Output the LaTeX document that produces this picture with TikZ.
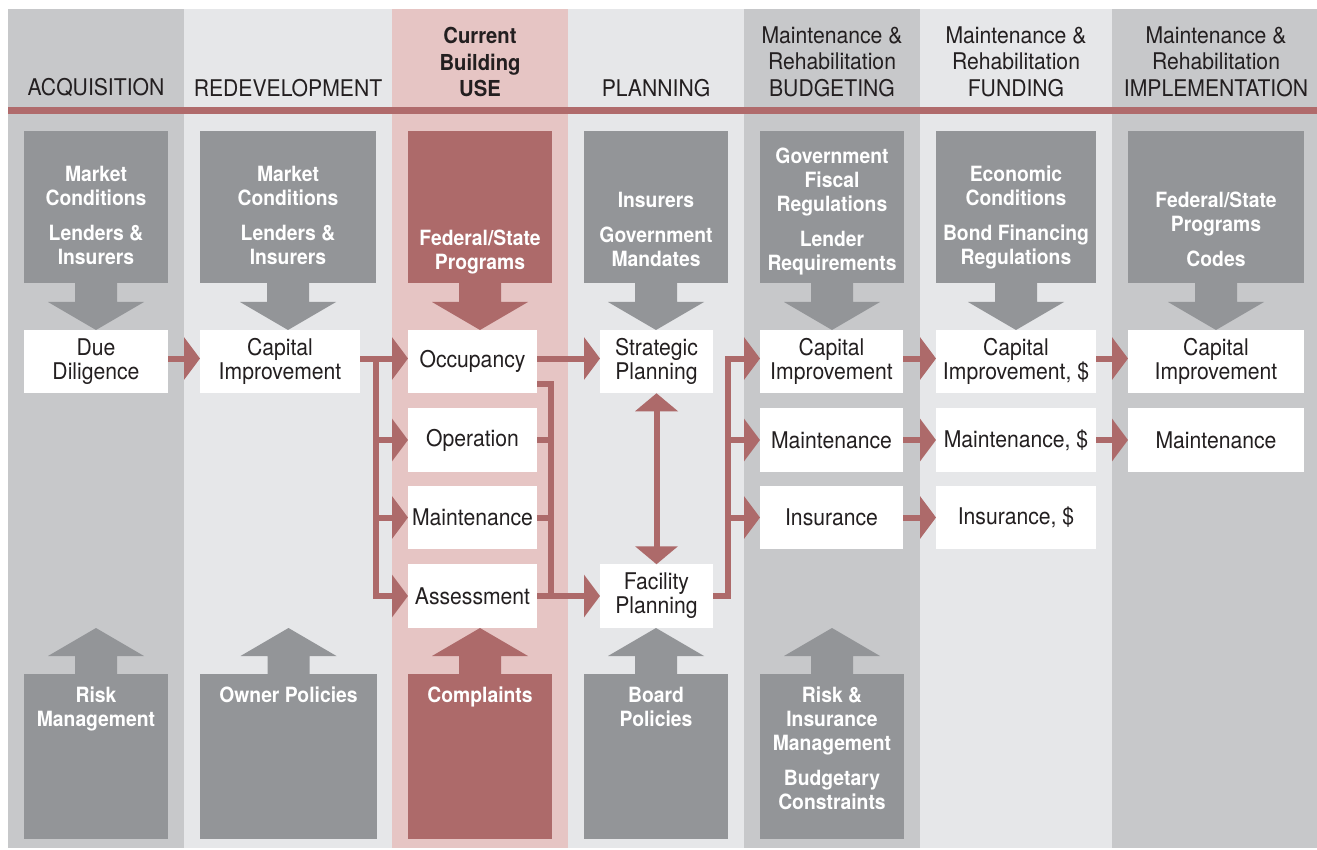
\documentclass[tikz,border=0pt]{standalone}
\usepackage{fontspec}
\setmainfont{TeX Gyre Heros}[FakeStretch=0.92]
\usetikzlibrary{arrows.meta}
\definecolor{coldark}{RGB}{199,200,202}
\definecolor{collight}{RGB}{230,231,233}
\definecolor{colpink}{RGB}{230,197,196}
\definecolor{boxgray}{RGB}{147,149,152}
\definecolor{boxred}{RGB}{173,106,106}
\definecolor{flow}{RGB}{173,106,106}
\definecolor{band}{RGB}{176,107,108}
\definecolor{ink}{RGB}{35,31,32}
\begin{document}
\begin{tikzpicture}[x=1pt,y=-1pt,
	stage/.style={fill=white, text=ink, inner sep=0pt, outer sep=0pt, align=center, minimum height=63.5pt, font=\fontsize{23}{24}\selectfont},
	factor/.style={fill=boxgray, inner sep=0pt, outer sep=0pt},
	ftext/.style={text=white, align=center, anchor=north, inner sep=0pt, font=\bfseries\fontsize{21}{24}\selectfont},
	head/.style={text=ink, align=center, anchor=south, inner sep=0pt, font=\fontsize{23}{26.5}\selectfont},
	wire/.style={draw=flow, line width=6pt},
	link/.style={wire, -{Triangle[width=42pt,length=16pt]}}]
	\useasboundingbox (0,0) rectangle (1317,850);
	\fill[white] (0,0) rectangle (1317,850);
	\fill[coldark] (8,9) rectangle (184,848);
	\fill[collight] (184,9) rectangle (392,848);
	\fill[colpink] (392,9) rectangle (568,848);
	\fill[collight] (568,9) rectangle (744,848);
	\fill[coldark] (744,9) rectangle (920,848);
	\fill[collight] (920,9) rectangle (1112,848);
	\fill[coldark] (1112,9) rectangle (1317,848);
	\fill[band] (8,107) rectangle (1317,114);

	\node[head] (hacq) at (96,97) {ACQUISITION};
	\node[head] (hred) at (288,97) {REDEVELOPMENT};
	\node[head, font=\bfseries\fontsize{22}{26.5}\selectfont] (huse) at (480,97) {Current\\Building\\USE};
	\node[head] (hplan) at (656,97) {PLANNING};
	\node[head] (hbud) at (832,97) {Maintenance \&\\Rehabilitation\\BUDGETING};
	\node[head] (hfund) at (1016,97) {Maintenance \&\\Rehabilitation\\FUNDING};
	\node[head] (himp) at (1216,97) {Maintenance \&\\Rehabilitation\\IMPLEMENTATION};

	\node[factor, minimum width=144pt, minimum height=152pt] (top1) at (96,207) {};
	\node[factor, minimum width=176pt, minimum height=152pt] (top2) at (288,207) {};
	\node[factor, fill=boxred, minimum width=144pt, minimum height=152pt] (top3) at (480,207) {};
	\node[factor, minimum width=144pt, minimum height=152pt] (top4) at (656,207) {};
	\node[factor, minimum width=144pt, minimum height=152pt] (top5) at (832,207) {};
	\node[factor, minimum width=160pt, minimum height=152pt] (top6) at (1016,207) {};
	\node[factor, minimum width=176pt, minimum height=152pt] (top7) at (1216,207) {};
	\foreach \n/\c in {top1/boxgray,top2/boxgray,top3/boxred,top4/boxgray,top5/boxgray,top6/boxgray,top7/boxgray}
		\fill[\c] ([xshift=-21pt]\n.south) -- ++(0,19) -- ++(-27,0) -- ++(48,28) -- ++(48,-28) -- ++(-27,0) -- ++(0,-19) -- cycle;

	\node[ftext] (top1t) at (96,166) {Market\\Conditions\\[11pt]Lenders \&\\Insurers};
	\node[ftext] (top2t) at (288,166) {Market\\Conditions\\[11pt]Lenders \&\\Insurers};
	\node[ftext] (top3t) at (480,230) {Federal/State\\Programs};
	\node[ftext] (top4t) at (656,192) {Insurers\\[11pt]Government\\Mandates};
	\node[ftext] (top5t) at (832,148) {Government\\Fiscal\\Regulations\\[11pt]Lender\\Requirements};
	\node[ftext] (top6t) at (1016,166) {Economic\\Conditions\\[11pt]Bond Financing\\Regulations};
	\node[ftext] (top7t) at (1216,192) {Federal/State\\Programs\\[11pt]Codes};

	\node[factor, minimum width=144pt, minimum height=165pt] (bot1) at (96,756.5) {};
	\node[factor, minimum width=177pt, minimum height=165pt] (bot2) at (288.5,756.5) {};
	\node[factor, fill=boxred, minimum width=144pt, minimum height=165pt] (bot3) at (480,756.5) {};
	\node[factor, minimum width=144pt, minimum height=165pt] (bot4) at (656,756.5) {};
	\node[factor, minimum width=144pt, minimum height=165pt] (bot5) at (832,756.5) {};
	\foreach \n/\c in {bot1/boxgray,bot2/boxgray,bot3/boxred,bot4/boxgray,bot5/boxgray}
		\fill[\c] ([xshift=-21pt]\n.north) -- ++(0,-18) -- ++(-27,0) -- ++(48,-28) -- ++(48,28) -- ++(-27,0) -- ++(0,18) -- cycle;

	\node[ftext] (bot1t) at (96,687) {Risk\\Management};
	\node[ftext] (bot2t) at (288.5,687) {Owner Policies};
	\node[ftext] (bot3t) at (480,687) {Complaints};
	\node[ftext] (bot4t) at (656,687) {Board\\Policies};
	\node[ftext] (bot5t) at (832,687) {Risk \&\\Insurance\\Management\\[11pt]Budgetary\\Constraints};

	\node[stage, minimum width=144pt] (dd) at (96,361.5) {Due\\Diligence};
	\node[stage, minimum width=160pt] (cap2) at (280,361.5) {Capital\\Improvement};
	\node[stage, minimum width=129pt] (occ) at (472.5,361.5) {Occupancy};
	\node[stage, minimum width=129pt] (ops) at (472.5,440) {Operation};
	\node[stage, minimum width=129pt] (mnt3) at (472.5,517.5) {Maintenance};
	\node[stage, minimum width=129pt] (asm) at (472.5,596) {Assessment};
	\node[stage, minimum width=113pt] (strat) at (656.5,361.5) {Strategic\\Planning};
	\node[stage, minimum width=113pt] (fac) at (656.5,596) {Facility\\Planning};
	\node[stage, minimum width=143pt] (cap5) at (831.5,361.5) {Capital\\Improvement};
	\node[stage, minimum width=143pt] (mnt5) at (831.5,440) {Maintenance};
	\node[stage, minimum width=143pt] (ins5) at (831.5,517.5) {Insurance};
	\node[stage, minimum width=160pt] (cap6) at (1016,361.5) {Capital\\Improvement, \$};
	\node[stage, minimum width=160pt] (mnt6) at (1016,440) {Maintenance, \$};
	\node[stage, minimum width=160pt] (ins6) at (1016,517.5) {Insurance, \$};
	\node[stage, minimum width=176pt] (cap7) at (1216,361.5) {Capital\\Improvement};
	\node[stage, minimum width=176pt] (mnt7) at (1216,440) {Maintenance};

	\draw[link] ([yshift=3pt]dd.east) -- ([yshift=3pt]cap2.west);
	\draw[link] ([yshift=3pt]cap2.east) -- ([yshift=3pt]occ.west);
	\coordinate (splitA) at (376,358.5);
	\draw[link] (splitA) |- (asm.west);
	\draw[link] (splitA |- ops.west) -- (ops.west);
	\draw[link] (splitA |- mnt3.west) -- (mnt3.west);

	\coordinate (mergeA) at (551,596);
	\draw[wire] ([yshift=-22pt]occ.east) -| (mergeA);
	\draw[wire] (ops.east) -- (ops.east -| mergeA);
	\draw[wire] (mnt3.east) -- (mnt3.east -| mergeA);
	\draw[link] (asm.east) -- (fac.west);
	\draw[link] ([yshift=3pt]occ.east) -- ([yshift=3pt]strat.west);
	\draw[wire, {Triangle[width=42pt,length=18pt]}-{Triangle[width=42pt,length=18pt]}] (strat.south) -- (fac.north);

	\coordinate (splitB) at (728,358.5);
	\draw[link] (fac.east) -| (splitB) -- ([yshift=3pt]cap5.west);
	\draw[link] (splitB |- mnt5.west) -- (mnt5.west);
	\draw[link] (splitB |- ins5.west) -- (ins5.west);

	\draw[link] ([yshift=3pt]cap5.east) -- ([yshift=3pt]cap6.west);
	\draw[link] (mnt5.east) -- (mnt6.west);
	\draw[link] (ins5.east) -- (ins6.west);
	\draw[link] ([yshift=3pt]cap6.east) -- ([yshift=3pt]cap7.west);
	\draw[link] (mnt6.east) -- (mnt7.west);
\end{tikzpicture}
\end{document}
